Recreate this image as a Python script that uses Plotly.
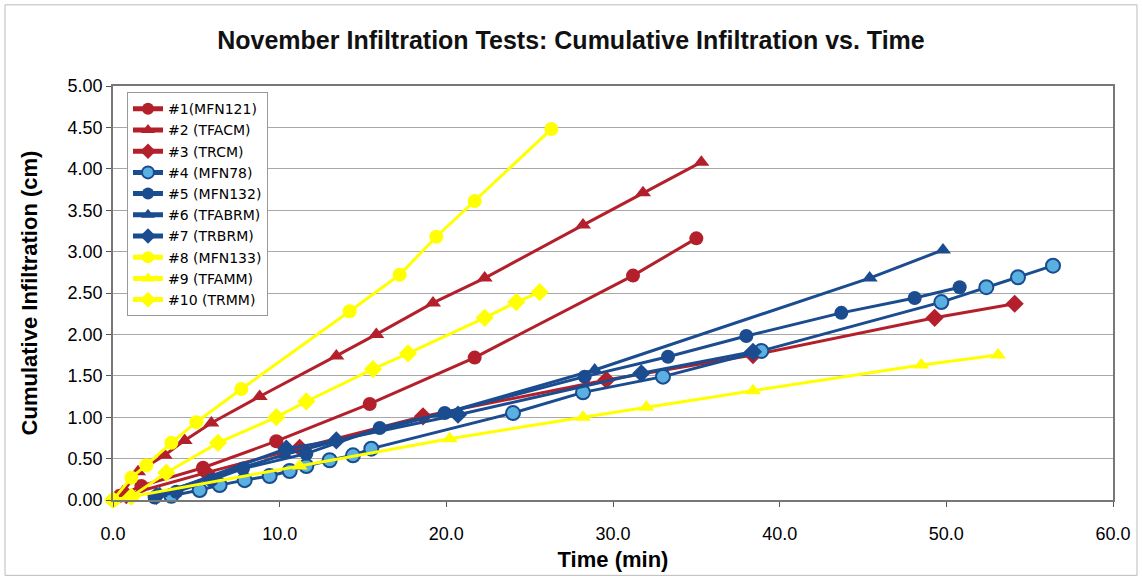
import plotly.graph_objects as go

# Cumulative infiltration (cm) vs. elapsed time (min) for each November test
t1 = [0.4, 1.7, 5.4, 9.8, 15.4, 21.7, 31.2, 35.0]
v1 = [0.05, 0.17, 0.39, 0.71, 1.16, 1.72, 2.71, 3.16]

t2 = [0.6, 1.5, 3.1, 4.3, 5.9, 8.8, 13.4, 15.8, 19.2, 22.3, 28.2, 31.8, 35.3]
v2 = [0.10, 0.34, 0.54, 0.72, 0.93, 1.25, 1.74, 2.00, 2.38, 2.68, 3.32, 3.71, 4.08]

t3 = [0.8, 5.6, 11.2, 18.6, 29.6, 38.4, 49.3, 54.1]
v3 = [0.06, 0.33, 0.63, 1.01, 1.45, 1.75, 2.20, 2.37]

t4 = [3.5, 5.2, 6.4, 7.9, 9.4, 10.6, 11.6, 13.0, 14.4, 15.5, 24.0, 28.2, 33.0, 38.9, 49.7, 52.4, 54.3, 56.4]
v4 = [0.05, 0.12, 0.18, 0.24, 0.29, 0.35, 0.41, 0.48, 0.54, 0.62, 1.05, 1.30, 1.49, 1.80, 2.39, 2.57, 2.69, 2.83]

t5 = [2.5, 3.8, 5.9, 7.8, 11.6, 16.0, 19.9, 28.3, 33.3, 38.0, 43.7, 48.1, 50.8]
v5 = [0.03, 0.10, 0.24, 0.38, 0.56, 0.87, 1.05, 1.49, 1.73, 1.98, 2.26, 2.44, 2.57]

t6 = [2.8, 10.3, 19.7, 28.9, 45.4, 49.8]
v6 = [0.08, 0.55, 1.04, 1.57, 2.68, 3.02]

t7 = [2.6, 10.4, 13.4, 20.7, 31.7, 38.4]
v7 = [0.05, 0.62, 0.72, 1.03, 1.53, 1.79]

t8 = [0.0, 1.1, 2.0, 3.5, 5.0, 7.7, 14.2, 17.2, 19.4, 21.7, 26.3]
v8 = [0.00, 0.27, 0.42, 0.69, 0.94, 1.34, 2.28, 2.72, 3.18, 3.61, 4.48]

t9 = [0.0, 1.1, 11.2, 20.2, 28.2, 32.0, 38.4, 48.5, 53.1]
v9 = [0.00, 0.04, 0.41, 0.74, 1.00, 1.12, 1.32, 1.63, 1.75]

t10 = [0.0, 1.1, 3.2, 6.3, 9.8, 11.6, 15.6, 17.7, 22.3, 24.2, 25.6]
v10 = [0.00, 0.04, 0.33, 0.69, 1.00, 1.19, 1.58, 1.77, 2.20, 2.39, 2.51]

names = ["#1(MFN121)", "#2 (TFACM)", "#3 (TRCM)", "#4 (MFN78)", "#5 (MFN132)",
         "#6 (TFABRM)", "#7 (TRBRM)", "#8 (MFN133)", "#9 (TFAMM)", "#10 (TRMM)"]

RED = "#B3202B"
BLUE = "#1A4C8F"
LIGHT = "#5AB0E0"
YELLOW = "#FFFF00"

series = [
    (t1, v1, RED, RED, "circle", 14),
    (t2, v2, RED, RED, "triangle-up", 14),
    (t3, v3, RED, RED, "diamond", 14),
    (t4, v4, BLUE, LIGHT, "circle", 14),
    (t5, v5, BLUE, BLUE, "circle", 14),
    (t6, v6, BLUE, BLUE, "triangle-up", 14),
    (t7, v7, BLUE, BLUE, "diamond", 14),
    (t8, v8, YELLOW, YELLOW, "circle", 14),
    (t9, v9, YELLOW, YELLOW, "triangle-up", 14),
    (t10, v10, YELLOW, YELLOW, "diamond", 14),
]

fig = go.Figure()
for name, (tx, vy, line_col, fill_col, sym, size) in zip(names, series):
    fig.add_trace(go.Scatter(
        x=tx, y=vy, name=name, mode="lines+markers",
        line=dict(color=line_col, width=3),
        marker=dict(symbol=sym, size=size, color=fill_col,
                    line=dict(color=line_col, width=2 if fill_col != line_col else 0)),
        cliponaxis=False,
    ))

fig.update_layout(
    width=1142, height=579,
    margin=dict(l=113, r=29, t=86, b=79),
    paper_bgcolor="white", plot_bgcolor="white",
    font=dict(family="Liberation Sans, Arial, sans-serif", color="black"),
    title=dict(text="<b>November Infiltration Tests: Cumulative Infiltration vs. Time</b>",
               x=0.5, xanchor="center", y=0.93, yanchor="middle",
               font=dict(size=25, color="#111")),
    xaxis=dict(range=[0, 60], dtick=10, tickformat=".1f", showgrid=False,
               ticks="outside", ticklen=5, tickcolor="#555",
               ticklabelstandoff=12,
               showline=True, linecolor="#777", linewidth=1.5, mirror=True,
               zeroline=False, tickfont=dict(size=18),
               title=dict(text="<b>Time (min)</b>", font=dict(size=22), standoff=8)),
    yaxis=dict(range=[0, 5], dtick=0.5, tickformat=".2f", showgrid=True,
               gridcolor="#A8A8A8", gridwidth=1,
               ticks="outside", ticklen=5, tickcolor="#555",
               showline=True, linecolor="#777", linewidth=1.5, mirror=True,
               zeroline=False, tickfont=dict(size=18),
               title=dict(text="<b>Cumulative Infiltration (cm)</b>", font=dict(size=22), standoff=24)),
    legend=dict(x=0.014, y=0.985, xanchor="left", yanchor="top",
                bgcolor="white", bordercolor="#999", borderwidth=1,
                font=dict(size=14, family="DejaVu Sans, sans-serif"),
                tracegroupgap=0, itemsizing="constant"),
    showlegend=True,
)

# outer chart frame
fig.add_shape(type="rect", xref="paper", yref="paper",
              x0=-0.108, x1=1.024, y0=-0.182, y1=1.196,
              line=dict(color="#BBBBBB", width=1), fillcolor="rgba(0,0,0,0)", layer="below")

fig.write_html("out.html")
